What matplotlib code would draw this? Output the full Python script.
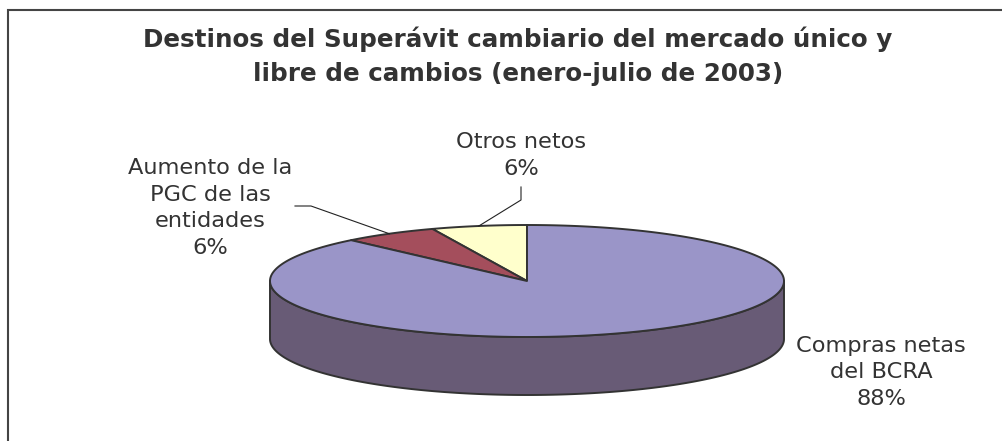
import numpy as np
import matplotlib.pyplot as plt
from matplotlib.patches import Polygon

# data, counter-clockwise from 12 o'clock
categories = ["Otros netos", "Aumento de la\nPGC de las\nentidades", "Compras netas\ndel BCRA"]
shares = [6, 6, 88]
top_colors = ["#ffffcc", "#a44e5c", "#9a95c8"]
side_colors = ["#bdbd96", "#7a3a45", "#685b76"]
title = "Destinos del Superávit cambiario del mercado único y\nlibre de cambios (enero-julio de 2003)"

# pie geometry in pixels (y grows downwards)
cx, cy = 527, 281
a, b = 257, 56
depth = 58
edge = "#333333"
text_color = "#333333"

plt.rcParams['font.family'] = ['DejaVu Sans']

fig = plt.figure(figsize=(10.03, 4.41), dpi=100)
ax = fig.add_axes([0, 0, 1, 1])
ax.set_xlim(0, 1003)
ax.set_ylim(441, 0)
ax.axis('off')


def rim(t_deg, dz=0.0):
    t = np.radians(t_deg)
    return cx + a * np.cos(t), cy - b * np.sin(t) + dz


# slice angle ranges
fracs = np.array(shares, dtype=float) / sum(shares)
starts = 90 + 360 * np.concatenate([[0], np.cumsum(fracs)[:-1]])
ends = starts + 360 * fracs

# side walls: only the front half (180..360 deg) is visible
for s, e, col in zip(starts, ends, side_colors):
    for lo, hi in [(180, 360), (540, 720)]:
        s2, e2 = max(s, lo), min(e, hi)
        if e2 <= s2:
            continue
        t = np.linspace(s2, e2, 200)
        xt, yt = rim(t)
        xb, yb = rim(t[::-1], depth)
        pts = np.column_stack([np.r_[xt, xb], np.r_[yt, yb]])
        ax.add_patch(Polygon(pts, closed=True, facecolor=col, edgecolor=edge,
                             lw=1.4, joinstyle='round', zorder=2))

# top face
for s, e, col in zip(starts, ends, top_colors):
    t = np.linspace(s, e, 300)
    xt, yt = rim(t)
    pts = np.column_stack([np.r_[cx, xt], np.r_[cy, yt]])
    ax.add_patch(Polygon(pts, closed=True, facecolor=col, edgecolor=edge,
                         lw=1.4, joinstyle='round', zorder=3))

# labels (y = baseline of the last line)
pcts = [f"{v}%" for v in shares]
label_pos = [(521, 175), (210, 254), (881, 405)]
for name, pct, (lx, ly) in zip(categories, pcts, label_pos):
    ax.text(lx, ly, f"{name}\n{pct}", ha='center', va='baseline', fontsize=16.2,
            color=text_color, linespacing=1.42, zorder=5)

# leader lines to the middle of the two small slices
mids = (starts + ends) / 2
leader_start = [[(521, 187), (521, 200)], [(295, 206), (311, 206)]]
for i, pts in enumerate(leader_start):
    mx, my = rim(mids[i])
    xs = [p[0] for p in pts] + [mx]
    ys = [p[1] for p in pts] + [my]
    ax.plot(xs, ys, color="#222222", lw=0.8, zorder=4)

ax.text(518, 81, title, ha='center', va='baseline', fontsize=17.7,
        fontweight='bold', color=text_color, linespacing=1.55)

# chart frame (top and left edges visible)
ax.plot([8.5, 8.5, 1003], [441, 9.5, 9.5], color="#444444", lw=1.5,
        solid_joinstyle='miter', zorder=6)

fig.savefig("out.png", dpi=100)
